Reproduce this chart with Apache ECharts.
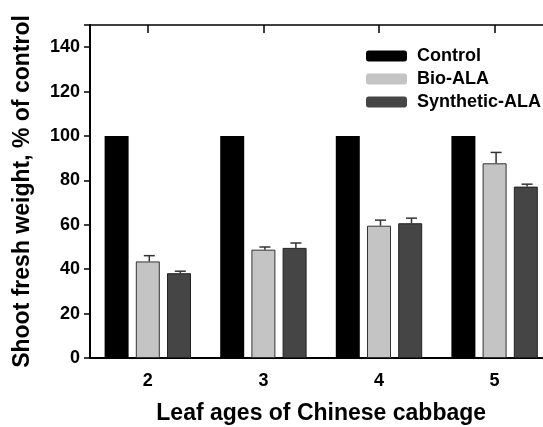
<!DOCTYPE html>
<html>
<head>
<meta charset="utf-8">
<script src="https://cdn.jsdelivr.net/npm/echarts@6/dist/echarts.min.js"></script>
<style>
html,body{margin:0;padding:0;background:#fff;}
#chart{width:543px;height:427px;}
</style>
</head>
<body>
<div id="chart"></div>
<script>
var categories = ['2', '3', '4', '5'];
var controlValues = [100, 100, 100, 100];
var bioValues = [43.5, 48.8, 59.6, 87.7];
var bioErrors = [2.6, 1.2, 2.5, 4.9];
var synthValues = [38.2, 49.6, 60.7, 77.2];
var synthErrors = [0.9, 2.2, 2.3, 1.1];
var seriesNames = ['Control', 'Bio-ALA', 'Synthetic-ALA'];
var yTicks = [0, 20, 40, 60, 80, 100, 120, 140];

var FONT = 'Liberation Sans, Arial, sans-serif';

function errData(vals, errs) {
  return vals.map(function (v, i) { return [i, v, errs[i]]; });
}
function errRender(offset) {
  return function (params, api) {
    var base = api.coord([api.value(0), api.value(1)]);
    var top = api.coord([api.value(0), api.value(1) + api.value(2)]);
    var x = base[0] + offset;
    var capHalf = 5.5;
    var st = { stroke: '#333', lineWidth: 1.5 };
    return {
      type: 'group',
      children: [
        { type: 'line', shape: { x1: x, y1: base[1], x2: x, y2: top[1] }, style: st },
        { type: 'line', shape: { x1: x - capHalf, y1: top[1], x2: x + capHalf, y2: top[1] }, style: st }
      ]
    };
  };
}

var chart = echarts.init(document.getElementById('chart'));
chart.setOption({
  animation: false,
  backgroundColor: '#fff',
  grid: { left: 90, width: 462.4, top: 25, height: 333, containLabel: false, outerBoundsMode: 'none' },
  legend: {
    data: seriesNames,
    orient: 'vertical',
    left: 366,
    top: 47,
    padding: 0,
    itemWidth: 41,
    itemHeight: 11,
    itemGap: 5,
    textStyle: { fontFamily: FONT, fontWeight: 'bold', fontSize: 18, color: '#000', padding: [0, 0, 0, 5] },
    itemStyle: { borderWidth: 0 }
  },
  xAxis: [
    {
      type: 'category',
      data: categories,
      position: 'bottom',
      axisLine: { lineStyle: { color: '#000', width: 2 } },
      axisTick: { show: false },
      axisLabel: { fontFamily: FONT, fontWeight: 'bold', fontSize: 18, color: '#000', margin: 14 },
      name: 'Leaf ages of Chinese cabbage',
      nameLocation: 'middle',
      nameGap: 44,
      nameTextStyle: { fontFamily: FONT, fontWeight: 'bold', fontSize: 23, color: '#000' }
    },
    {
      type: 'category',
      data: categories,
      position: 'top',
      axisLine: { lineStyle: { color: '#000', width: 1.5 } },
      axisTick: { show: true, inside: true, length: 8, alignWithLabel: true, lineStyle: { color: '#000', width: 1.5 } },
      axisLabel: { show: false }
    }
  ],
  yAxis: {
    type: 'value',
    min: 0,
    max: 150,
    interval: 20,
    axisLine: { show: true, lineStyle: { color: '#000', width: 2 } },
    axisTick: { show: true, length: 6, lineStyle: { color: '#000', width: 1.5 } },
    splitLine: { show: false },
    axisLabel: {
      fontFamily: FONT, fontWeight: 'bold', fontSize: 18, color: '#000', margin: 10,
      formatter: function (v) { return yTicks.indexOf(v) >= 0 ? String(v) : ''; }
    },
    name: 'Shoot fresh weight, % of control',
    nameLocation: 'middle',
    nameGap: 56,
    nameTextStyle: { fontFamily: FONT, fontWeight: 'bold', fontSize: 23, color: '#000' }
  },
  series: [
    {
      name: seriesNames[0], type: 'bar', data: controlValues, barWidth: 24, barGap: '30%',
      itemStyle: { color: '#000' }
    },
    {
      name: seriesNames[1], type: 'bar', data: bioValues, barWidth: 24, barGap: '30%',
      itemStyle: { color: '#c4c4c4', borderColor: '#333', borderWidth: 1 }
    },
    {
      name: seriesNames[2], type: 'bar', data: synthValues, barWidth: 24, barGap: '30%',
      itemStyle: { color: '#454545', borderColor: '#222', borderWidth: 1 }
    },
    {
      type: 'custom', data: errData(bioValues, bioErrors), renderItem: errRender(1.5),
      encode: { x: 0, y: 1 }, z: 1, silent: true
    },
    {
      type: 'custom', data: errData(synthValues, synthErrors), renderItem: errRender(32.5),
      encode: { x: 0, y: 1 }, z: 1, silent: true
    }
  ]
});
</script>
</body>
</html>
